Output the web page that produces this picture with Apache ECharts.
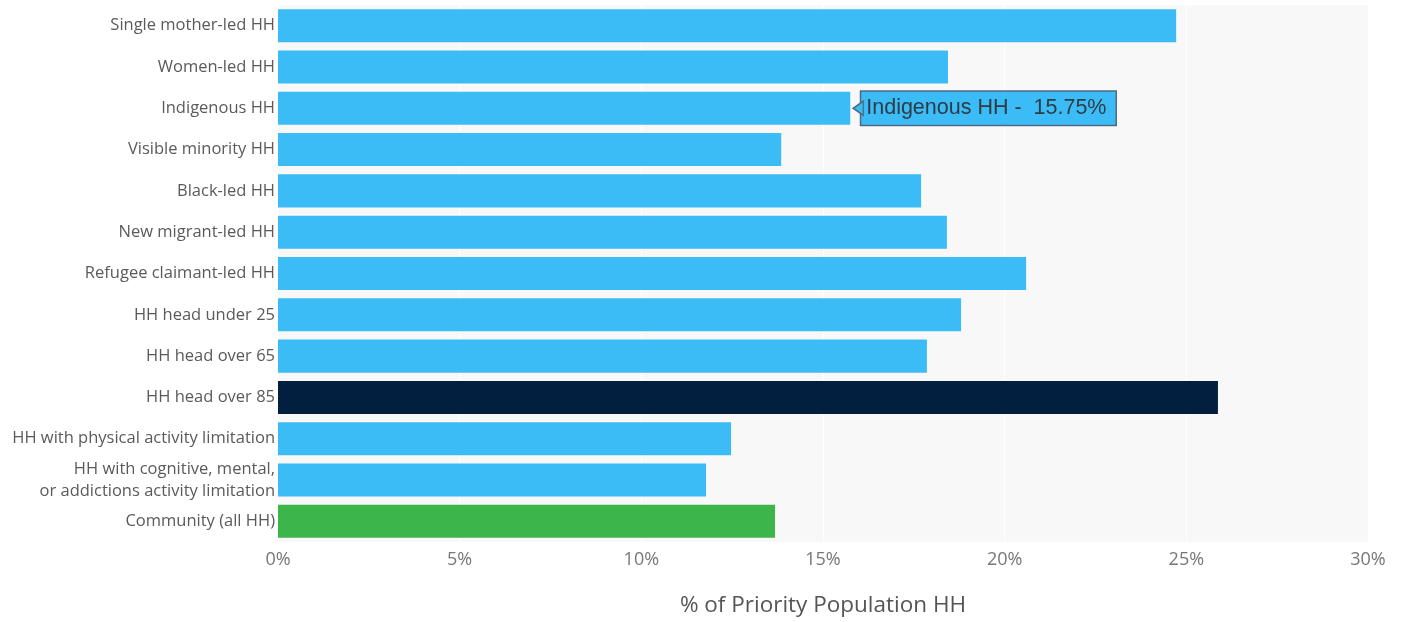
<!DOCTYPE html>
<html>
<head>
<meta charset="utf-8">
<script src="https://cdn.jsdelivr.net/npm/echarts@6/dist/echarts.min.js"></script>
<style>html,body{margin:0;padding:0;background:#fff}#c{width:1403px;height:622px}</style>
</head>
<body>
<div id="c"></div>
<script>
const categories = [
  "Single mother-led HH",
  "Women-led HH",
  "Indigenous HH",
  "Visible minority HH",
  "Black-led HH",
  "New migrant-led HH",
  "Refugee claimant-led HH",
  "HH head under 25",
  "HH head over 65",
  "HH head over 85",
  "HH with physical activity limitation",
  "HH with cognitive, mental,\nor addictions activity limitation",
  "Community (all HH)"
];
const values = [24.72, 18.44, 15.75, 13.85, 17.70, 18.41, 20.59, 18.80, 17.86, 25.87, 12.47, 11.78, 13.68];
const xTicks = [0, 5, 10, 15, 20, 25, 30];
const highlightCategory = "Indigenous HH";

const colorDefault = "#3bbcf7";
const colorSpecial = { "HH head over 85": "#021f40", "Community (all HH)": "#3cb54a" };

const data = categories.map((c, i) => {
  const item = { value: values[i], itemStyle: { color: colorSpecial[c] || colorDefault } };
  if (c === highlightCategory) {
    item.label = {
      show: true,
      position: 'right',
      distance: 11,
      formatter: p => p.name + " -  " + p.value.toFixed(2) + "%",
      backgroundColor: colorDefault,
      borderColor: "#4d6b80",
      borderWidth: 1.5,
      padding: [6, 9, 5, 5],
      color: "#2f3b45",
      fontFamily: "Liberation Sans, Arial, sans-serif",
      fontSize: 21.5
    };
  }
  return item;
});

const chart = echarts.init(document.getElementById('c'));
chart.setOption({
  animation: false,
  grid: { left: 278, right: 35, top: 5, bottom: 79, show: true, backgroundColor: "#f8f8f8", borderWidth: 0 },
  xAxis: {
    type: 'value', min: 0, max: 30, interval: 5,
    axisLine: { show: false }, axisTick: { show: false },
    splitLine: { show: true, lineStyle: { color: "#ffffff", width: 1 } },
    axisLabel: { formatter: v => xTicks.includes(v) ? v + "%" : "", color: "#777", fontSize: 18, fontFamily: "Open Sans, sans-serif", margin: 9 },
    name: "% of Priority Population HH", nameLocation: 'middle', nameGap: 52,
    nameTextStyle: { color: "#555", fontSize: 22.5, fontFamily: "Open Sans, sans-serif" }
  },
  yAxis: {
    type: 'category', data: categories, inverse: true,
    axisLine: { show: false }, axisTick: { show: false },
    axisLabel: { color: "#5a5a5a", fontSize: 16.5, fontFamily: "Open Sans, sans-serif", margin: 3, lineHeight: 22 }
  },
  series: [{
    type: 'bar', data: data, barCategoryGap: '20%',
    markPoint: {
      silent: true,
      symbol: 'triangle', symbolSize: [14, 10], symbolRotate: 90,
      symbolOffset: [8, 0],
      itemStyle: { color: colorDefault, borderColor: "#4d6b80", borderWidth: 1.5 },
      label: { show: false },
      data: [{ coord: [values[categories.indexOf(highlightCategory)], highlightCategory] }]
    }
  }]
});
</script>
</body>
</html>
